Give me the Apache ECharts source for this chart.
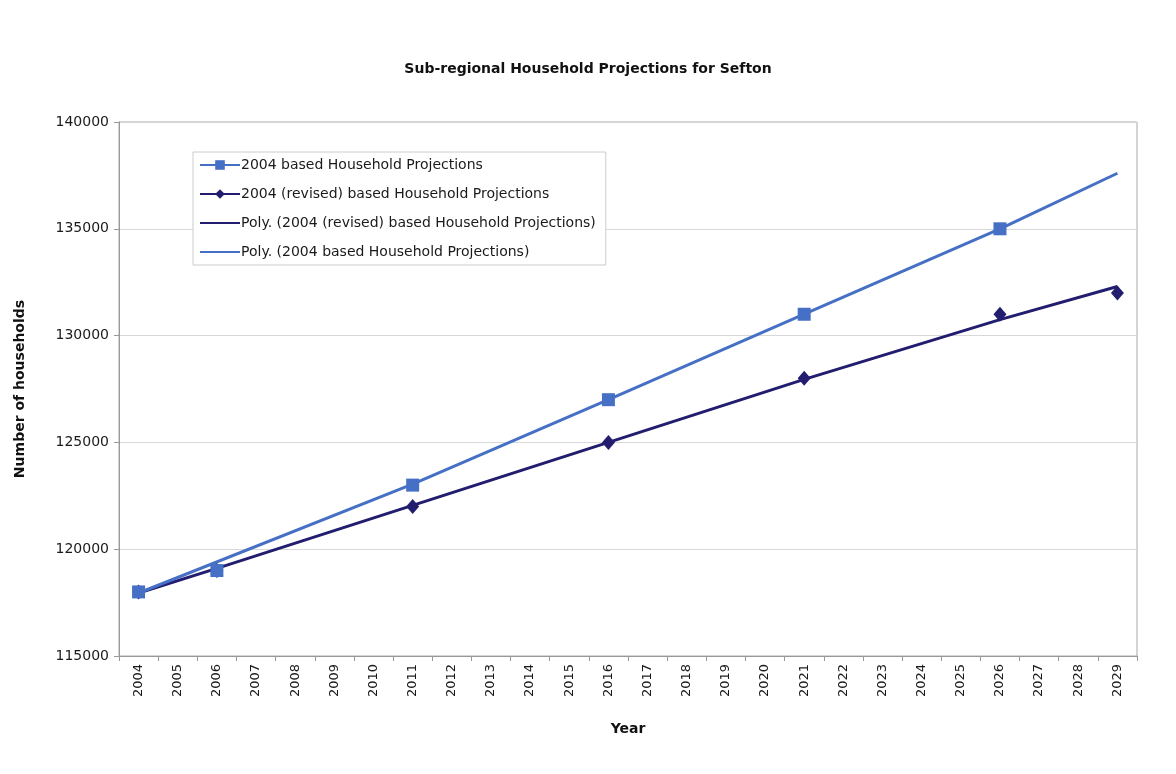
<!DOCTYPE html>
<html>
<head>
<meta charset="utf-8">
<script src="https://cdn.jsdelivr.net/npm/echarts@6/dist/echarts.min.js"></script>
<style>html,body{margin:0;padding:0;background:#fff}#c{width:1176px;height:774px}</style>
</head>
<body>
<div id="c"></div>
<script>
const years = ['2004','2005','2006','2007','2008','2009','2010','2011','2012','2013','2014','2015','2016','2017','2018','2019','2020','2021','2022','2023','2024','2025','2026','2027','2028','2029'];
const based2004 = [118000,null,119000,null,null,null,null,123000,null,null,null,null,127000,null,null,null,null,131000,null,null,null,null,135000,null,null,null];
const revised2004 = [118000,null,119000,null,null,null,null,122000,null,null,null,null,125000,null,null,null,null,128000,null,null,null,null,131000,null,null,132000];
const polyRevised = [117950,null,119100,null,null,null,null,122050,null,null,null,null,125000,null,null,null,null,127950,null,null,null,null,130750,null,null,132300];
const polyBased = [117950,null,null,null,null,null,null,123050,null,null,null,null,127000,null,null,null,null,131000,null,null,null,null,135000,null,null,137600];

const LIGHT = '#4670c6';
const DARK = '#221d6e';
const FONT = 'DejaVu Sans';

const chart = echarts.init(document.getElementById('c'));
chart.setOption({
  backgroundColor: '#ffffff',
  animation: false,
  textStyle: { fontFamily: FONT },
  title: {
    text: 'Sub-regional Household Projections for Sefton',
    left: 'center', top: 57,
    textStyle: { fontFamily: FONT, fontSize: 14, fontWeight: 'bold', color: '#111' }
  },
  legend: {
    orient: 'vertical',
    left: 193, top: 152,
    padding: [6, 10, 6, 6],
    itemWidth: 40, itemHeight: 12,
    itemGap: 15,
    backgroundColor: '#ffffff',
    borderColor: '#cccccc', borderWidth: 1,
    textStyle: { fontFamily: FONT, fontSize: 14, color: '#1a1a1a', padding: [0,0,0,-4] },
    data: [
      { name: '2004 based Household Projections' },
      { name: '2004 (revised) based Household Projections' },
      { name: 'Poly. (2004 (revised) based Household Projections)', itemStyle: { opacity: 0 } },
      { name: 'Poly. (2004 based Household Projections)', itemStyle: { opacity: 0 } }
    ]
  },
  grid: { left: 119, right: 39, top: 122, bottom: 118, show: true, borderColor: '#a8a8a8', borderWidth: 1 },
  xAxis: {
    type: 'category', data: years, boundaryGap: true,
    name: 'Year', nameLocation: 'middle', nameGap: 66,
    nameTextStyle: { fontFamily: FONT, fontSize: 14, fontWeight: 'bold', color: '#111' },
    axisLine: { lineStyle: { color: '#999999' } },
    axisTick: { show: true, length: 5, lineStyle: { color: '#999999' } },
    axisLabel: { rotate: 90, fontFamily: FONT, fontSize: 13, color: '#1a1a1a', margin: 8, interval: 0 }
  },
  yAxis: {
    type: 'value', min: 115000, max: 140000, interval: 5000,
    name: 'Number of households', nameLocation: 'middle', nameGap: 92, nameRotate: 90,
    nameTextStyle: { fontFamily: FONT, fontSize: 14, fontWeight: 'bold', color: '#111' },
    axisLine: { show: true, lineStyle: { color: '#999999' } },
    axisTick: { show: true, length: 5, lineStyle: { color: '#999999' } },
    axisLabel: { fontFamily: FONT, fontSize: 14, color: '#1a1a1a', margin: 10, formatter: v => String(v) },
    splitLine: { lineStyle: { color: '#d8d8d8' } }
  },
  series: [
    {
      name: 'Poly. (2004 (revised) based Household Projections)', type: 'line', data: polyRevised,
      connectNulls: true, symbol: 'none', color: DARK, lineStyle: { width: 3, color: DARK }, z: 2
    },
    {
      name: 'Poly. (2004 based Household Projections)', type: 'line', data: polyBased,
      connectNulls: true, symbol: 'none', color: LIGHT, lineStyle: { width: 3, color: LIGHT }, z: 2
    },
    {
      name: '2004 (revised) based Household Projections', type: 'line', data: revised2004,
      connectNulls: false, symbol: 'diamond', symbolSize: [13, 15], showSymbol: true,
      color: DARK, itemStyle: { color: DARK }, lineStyle: { width: 3, color: DARK }, z: 4
    },
    {
      name: '2004 based Household Projections', type: 'line', data: based2004,
      connectNulls: false, symbol: 'rect', symbolSize: 13, showSymbol: true,
      color: LIGHT, itemStyle: { color: LIGHT }, lineStyle: { width: 3, color: LIGHT }, z: 5
    }
  ]
});
</script>
</body>
</html>
